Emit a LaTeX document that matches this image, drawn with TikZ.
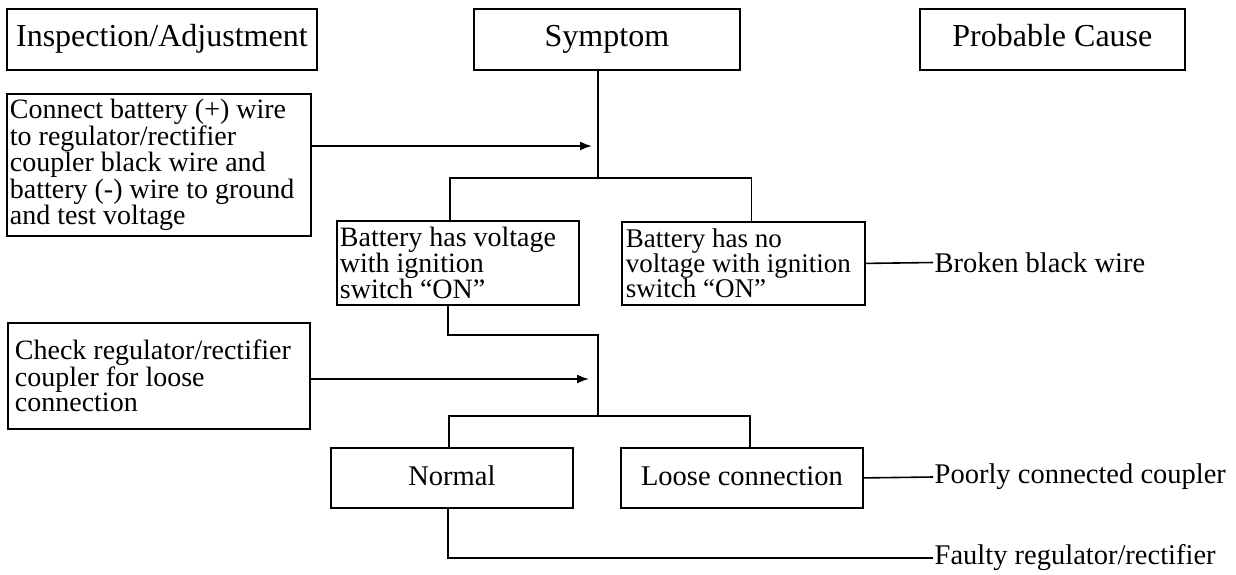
\documentclass[tikz,border=0pt]{standalone}
\usepackage{fontspec}
\setmainfont{Liberation Serif}
\usetikzlibrary{arrows.meta}
\begin{document}
\begin{tikzpicture}[x=1pt,y=-1pt,
  box/.style={draw,line width=1.8pt,inner sep=0pt,anchor=north west},
  hdr/.style={box,font=\fontsize{32}{36}\selectfont,text height=22pt,text depth=7pt},
  ctr/.style={box,font=\fontsize{28.5}{25}\selectfont,text height=20pt,text depth=5pt},
  txt/.style={box,align=flush left,font=\fontsize{28}{25}\selectfont},
  lbl/.style={anchor=west,inner xsep=1.5pt,inner ysep=0pt,font=\fontsize{28.5}{25}\selectfont},
  conn/.style={line width=1.6pt},
  arr/.style={conn,-{Latex[length=12pt,width=9pt]}}]
\useasboundingbox (0,0) rectangle (1236,574);

% header row
\node[hdr,minimum width=310pt,minimum height=61pt] (insp) at (6,8) {Inspection/Adjustment};
\node[hdr,minimum width=266pt,minimum height=61pt] (symp) at (473,8) {Symptom};
\node[hdr,minimum width=265pt,minimum height=61pt] (prob) at (919,8) {Probable Cause};

% inspection boxes
\node[txt,text width=298pt,inner xsep=3pt,minimum height=142pt] (connect) at (6,93)
  {Connect battery (+) wire\\to regulator/rectifier\\coupler black wire and\\battery (-) wire to ground\\and test voltage};
\node[txt,text width=288pt,inner xsep=7pt,minimum height=106pt] (check) at (7,322)
  {Check regulator/rectifier\\coupler for loose\\connection};

% symptom boxes
\node[txt,text width=236pt,inner xsep=3pt,minimum height=84pt] (bhv) at (336,220)
  {Battery has voltage\\with ignition\\switch “ON”};
\node[txt,text width=235pt,inner xsep=4pt,minimum height=83pt,font=\fontsize{27}{25}\selectfont] (bnv) at (621,221)
  {Battery has no\\voltage with ignition\\switch “ON”};
\node[ctr,minimum width=242pt,minimum height=60pt] (normal) at (330,447) {Normal};
\node[ctr,minimum width=242pt,minimum height=60pt] (loose) at (620,447) {Loose connection};

% probable causes
\node[lbl] (broken) at (933,262.5) {Broken black wire};
\node[lbl] (poorly) at (933,477) {Poorly connected coupler};
\node[lbl] (faulty) at (933,558) {Faulty regulator/rectifier};

% junctions
\coordinate (j1) at (598,178);
\coordinate (j2) at (598,335);
\coordinate (j3) at (598,416);
\coordinate (a1) at (592,146);
\coordinate (a2) at (589,379);

% connectors
\draw[conn] (symp.south -| j1) -- (j1);
\draw[conn] ([xshift=-8pt]bhv.north) |- (j1) -| ([xshift=8pt]bnv.north);
\draw[arr] (connect.east |- a1) -- (a1);
\draw[conn] (bnv.east) -- (broken.west);
\draw[conn] ([xshift=-10pt]bhv.south) |- (j2) -- (j3);
\draw[arr] (check.east |- a2) -- (a2);
\draw[conn] ([xshift=-3pt]normal.north) |- (j3) -| ([xshift=8pt]loose.north);
\draw[conn] (loose.east) -- (poorly.west);
\draw[conn] ([xshift=-4pt]normal.south) |- (faulty.west);
\end{tikzpicture}
\end{document}
